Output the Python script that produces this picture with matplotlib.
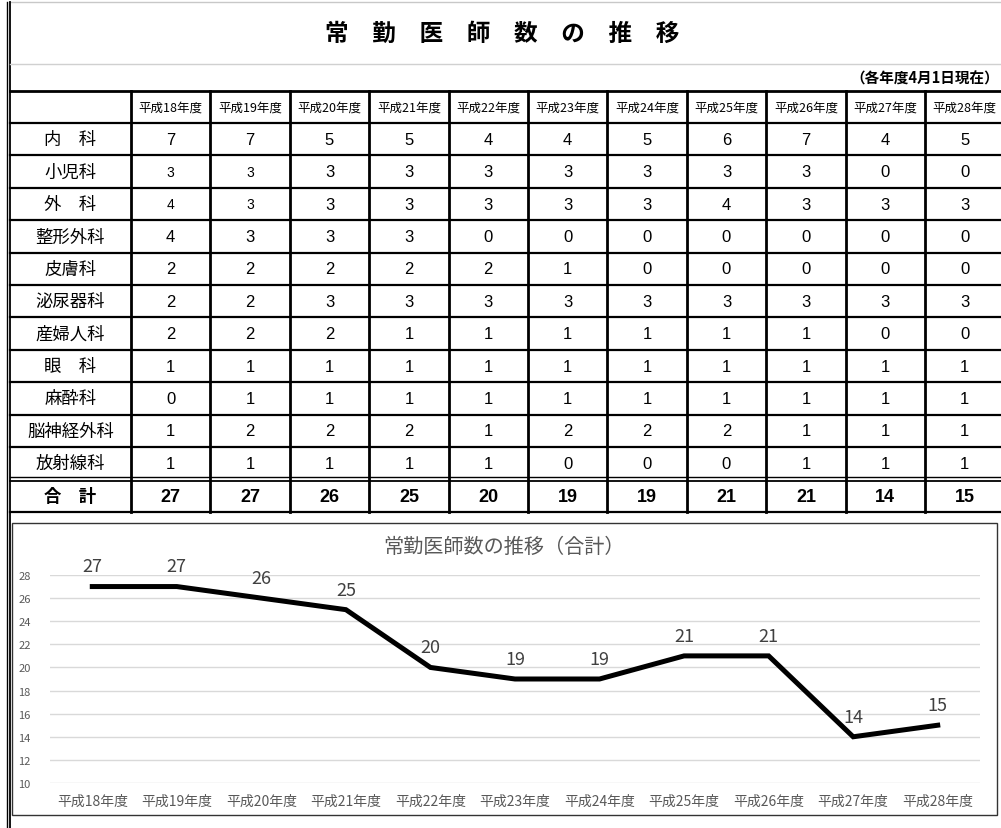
import matplotlib.pyplot as plt
from matplotlib.patches import Rectangle

plt.rcParams['font.family'] = ['Noto Sans CJK JP', 'DejaVu Sans']

# Table data
years = ["平成18年度", "平成19年度", "平成20年度", "平成21年度", "平成22年度", "平成23年度",
         "平成24年度", "平成25年度", "平成26年度", "平成27年度", "平成28年度"]
departments = ["内　科", "小児科", "外　科", "整形外科", "皮膚科", "泌尿器科",
               "産婦人科", "眼　科", "麻酔科", "脳神経外科", "放射線科"]
counts = [
    [7, 7, 5, 5, 4, 4, 5, 6, 7, 4, 5],
    [3, 3, 3, 3, 3, 3, 3, 3, 3, 0, 0],
    [4, 3, 3, 3, 3, 3, 3, 4, 3, 3, 3],
    [4, 3, 3, 3, 0, 0, 0, 0, 0, 0, 0],
    [2, 2, 2, 2, 2, 1, 0, 0, 0, 0, 0],
    [2, 2, 3, 3, 3, 3, 3, 3, 3, 3, 3],
    [2, 2, 2, 1, 1, 1, 1, 1, 1, 0, 0],
    [1, 1, 1, 1, 1, 1, 1, 1, 1, 1, 1],
    [0, 1, 1, 1, 1, 1, 1, 1, 1, 1, 1],
    [1, 2, 2, 2, 1, 2, 2, 2, 1, 1, 1],
    [1, 1, 1, 1, 1, 0, 0, 0, 1, 1, 1],
]
totals = [27, 27, 26, 25, 20, 19, 19, 21, 21, 14, 15]

# cells drawn in a smaller font in the original sheet
small_cells = {(1, 0), (1, 1), (2, 0), (2, 1)}


def main():
    fig = plt.figure(figsize=(10.01, 8.29), dpi=100)

    # ---- overlay axes in pixel coordinates for the table ----
    ax0 = fig.add_axes([0, 0, 1, 1])
    ax0.set_xlim(0, 1001)
    ax0.set_ylim(829, 0)
    ax0.axis("off")

    first_w = 131
    col_w = 79.4
    row_h = 32.4
    head_top, head_bot = 92, 124
    col_edges = [first_w + j * col_w for j in range(len(years) + 1)]
    row_edges = [head_bot + i * row_h for i in range(len(departments) + 1)]
    total_top, total_bot = 481.5, 513

    # sheet frame and title rows
    ax0.plot([10, 1001], [3, 3], color="#c8c8c8", lw=1)
    ax0.plot([6.5, 6.5], [3, 829], color="black", lw=1)
    ax0.plot([9.5, 9.5], [3, 829], color="black", lw=1.3)
    ax0.plot([10, 1001], [65, 65], color="#d0d0d0", lw=1)
    ax0.text(502, 34, "常　勤　医　師　数　の　推　移", ha="center", va="center",
             fontsize=17, fontweight="bold")
    ax0.text(999, 79, "（各年度4月1日現在）", ha="right", va="center",
             fontsize=10.5, fontweight="bold")

    # horizontal lines
    ax0.plot([10, 1001], [head_top, head_top], color="black", lw=2)
    for y in row_edges[:-1]:
        ax0.plot([10, 1001], [y, y], color="black", lw=1.6)
    ax0.plot([10, 1001], [row_edges[-1] - 2, row_edges[-1] - 2], color="black", lw=1)
    ax0.plot([10, 1001], [total_top, total_top], color="black", lw=1.3)
    ax0.plot([10, 1001], [total_bot, total_bot], color="black", lw=1.6)
    # vertical lines
    for x in col_edges:
        ax0.plot([x, x], [head_top, total_bot], color="black", lw=2)

    # header
    for j, yr in enumerate(years):
        cx = (col_edges[j] + col_edges[j + 1]) / 2
        ax0.text(cx, (head_top + head_bot) / 2, yr, ha="center", va="center", fontsize=9)

    # body
    for i, dep in enumerate(departments):
        cy = (row_edges[i] + row_edges[i + 1]) / 2
        ax0.text((10 + first_w) / 2, cy, dep, ha="center", va="center", fontsize=12.5)
        for j, v in enumerate(counts[i]):
            cx = (col_edges[j] + col_edges[j + 1]) / 2
            fs = 10 if (i, j) in small_cells else 12
            ax0.text(cx, cy, str(v), ha="center", va="center", fontsize=fs,
                     family=["Liberation Sans", "DejaVu Sans"])

    # total row
    ty = (total_top + total_bot) / 2
    ax0.text((10 + first_w) / 2, ty, "合　計", ha="center", va="center",
             fontsize=12.5, fontweight="bold")
    for j, v in enumerate(totals):
        cx = (col_edges[j] + col_edges[j + 1]) / 2
        ax0.text(cx, ty, str(v), ha="center", va="center", fontsize=13,
                 fontweight="bold", family=["Liberation Sans", "DejaVu Sans"])

    # chart frame + title
    ax0.add_patch(Rectangle((12, 524), 985, 292, fill=False, edgecolor="#333333", lw=1))
    ax0.text(504, 547, "常勤医師数の推移（合計）", ha="center", va="center",
             fontsize=14.5, color="#595959")

    # ---- line chart ----
    ax = fig.add_axes([50 / 1001, 1 - 784 / 829, 930 / 1001, 208 / 829])
    x = list(range(len(years)))
    ax.plot(x, totals, color="black", lw=3.6, solid_joinstyle="miter")
    for xi, v in zip(x, totals):
        ax.annotate(str(v), (xi, v), xytext=(0, 8), textcoords="offset points",
                    ha="center", va="bottom", fontsize=13, color="#404040")

    ax.set_xlim(-0.5, len(years) - 0.5)
    ax.set_ylim(10, 28)
    ax.set_yticks(range(10, 29, 2))
    ax.set_xticks(x)
    ax.set_xticklabels(years)
    ax.tick_params(axis="both", length=0, colors="#595959", labelsize=8)
    ax.tick_params(axis="x", labelsize=10, pad=8)
    ax.tick_params(axis="y", pad=14)
    ax.grid(axis="y", color="#d9d9d9", lw=1)
    ax.set_axisbelow(True)
    for s in ax.spines.values():
        s.set_visible(False)
    ax.patch.set_alpha(0)

    fig.savefig("out.png", dpi=100)
    plt.close()


if __name__ == '__main__':
    main()
